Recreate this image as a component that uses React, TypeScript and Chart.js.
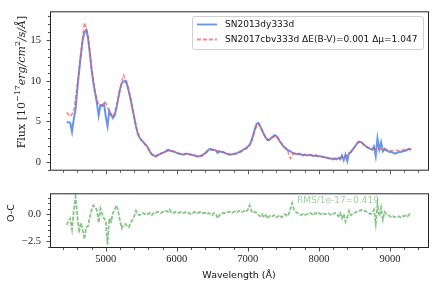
import React, { useEffect, useRef } from 'react';
import { Chart, registerables } from 'chart.js';
Chart.register(...registerables);

// ---------- DATA ----------
const wlModel = [4450,4500,4550,4600,4650,4700,4750,4800,4850,4900,4950,5000,5050,5100,5150,5200,5250,5300,5350,5400,5450,5500,5550,5600,5650,5700,5750,5800,5850,5900,5950,6000,6050,6100,6150,6200,6250,6300,6350,6400,6450,6500,6550,6600,6650,6700,6750,6800,6850,6900,6950,7000,7050,7100,7150,7200,7250,7300,7350,7400,7450,7500,7550,7600,7650,7700,7750,7800,7850,7900,7950,8000,8050,8100,8150,8200,8250,8300,8350,8400,8450,8500,8550,8600,8650,8700,8750,8800,8850,8900,8950,9000,9050,9100,9150,9200,9250,9300];
const fluxModel = [6.1,5.6,6.2,9.5,13.5,17.2,15.8,11.6,8.6,7.0,7.0,7.3,6.2,5.5,6.8,9.0,10.7,9.8,7.8,5.5,3.5,2.7,2.2,1.6,0.9,0.6,0.9,1.1,1.3,1.4,1.3,1.1,1.0,0.9,1.0,0.9,0.8,0.6,0.7,1.0,1.4,1.5,1.4,1.3,1.2,1.0,0.9,0.9,1.0,1.2,1.5,1.7,2.4,4.0,4.7,3.9,3.0,2.7,3.0,3.2,2.6,2.0,1.6,0.4,1.1,1.0,0.9,0.9,0.8,0.8,0.8,0.7,0.6,0.5,0.4,0.4,0.4,0.5,0.6,0.8,1.2,1.8,2.4,2.4,2.0,1.7,1.6,1.6,1.6,1.5,1.5,1.4,1.4,1.4,1.4,1.5,1.6,1.5];

const wlObs = [4450,4475,4500,4525,4550,4575,4600,4625,4650,4675,4700,4725,4750,4775,4800,4825,4850,4875,4900,4925,4950,4975,5000,5025,5050,5075,5100,5125,5150,5175,5200,5225,5250,5275,5300,5325,5350,5375,5400,5425,5450,5475,5500,5525,5550,5575,5600,5625,5650,5675,5700,5725,5750,5775,5800,5825,5850,5875,5900,5925,5950,5975,6000,6025,6050,6075,6100,6125,6150,6175,6200,6225,6250,6275,6300,6325,6350,6375,6400,6425,6450,6475,6500,6525,6550,6575,6600,6625,6650,6675,6700,6725,6750,6775,6800,6825,6850,6875,6900,6925,6950,6975,7000,7025,7050,7075,7100,7125,7150,7175,7200,7225,7250,7275,7300,7325,7350,7375,7400,7425,7450,7475,7500,7525,7550,7575,7600,7625,7650,7675,7700,7725,7750,7775,7800,7825,7850,7875,7900,7925,7950,7975,8000,8025,8050,8075,8100,8125,8150,8175,8200,8225,8250,8275,8300,8325,8350,8375,8400,8425,8450,8475,8500,8525,8550,8575,8600,8625,8650,8675,8700,8725,8750,8775,8800,8825,8850,8875,8900,8925,8950,8975,9000,9025,9050,9075,9100,9125,9150,9175,9200,9225,9250,9275,9300];
const fluxObs = [4.9,4.9,4.8,3.7,5.3,6.5,9.0,11.2,13.2,15.0,16.0,16.3,15.3,13.5,11.4,9.8,8.5,7.3,5.7,7.0,6.9,7.2,5.6,4.4,6.3,5.8,5.4,5.7,6.6,7.8,8.9,9.7,9.9,10.0,9.5,8.7,7.7,6.6,5.5,4.4,3.5,3.0,2.7,2.5,2.2,2.0,1.6,1.2,0.9,0.8,0.7,0.8,0.9,1.0,1.1,1.2,1.3,1.5,1.4,1.3,1.3,1.2,1.1,1.0,1.0,0.9,0.9,1.0,1.0,0.9,0.9,0.8,0.8,0.7,0.7,0.7,0.8,0.9,1.1,1.3,1.5,1.6,1.5,1.5,1.4,1.1,1.3,1.2,1.2,1.1,1.0,0.9,0.9,0.9,1.0,1.0,1.1,1.2,1.3,1.4,1.6,1.7,1.9,2.1,2.6,3.3,4.1,4.7,4.8,4.4,3.9,3.4,3.0,2.7,2.7,2.9,3.1,3.3,3.2,2.9,2.5,2.2,1.9,1.7,1.5,1.4,1.3,1.1,1.0,1.0,0.9,1.0,0.9,0.8,0.9,0.8,0.8,0.9,0.8,0.7,0.8,0.7,0.7,0.7,0.6,0.6,0.5,0.5,0.4,0.4,0.3,0.4,0.3,0.5,0.3,0.8,0.2,0.9,0.1,1.1,1.2,1.5,1.8,2.1,2.4,2.5,2.4,2.2,2.0,1.8,1.7,1.6,1.5,1.9,0.7,2.9,1.5,2.4,1.3,1.6,1.4,1.3,1.2,1.2,1.1,1.0,1.1,1.2,1.2,1.3,1.3,1.4,1.5,1.6,1.5];
const residual = [-1.0,-0.6,-0.4,-1.4,0.3,1.6,-0.2,-1.7,-0.8,-1.4,-2.3,-1.2,-1.1,-0.3,0.4,0.8,0.6,0.4,-0.8,0.5,0.0,-0.4,-0.6,-2.8,-0.4,-0.7,0.1,0.4,0.8,0.3,-0.6,-1.3,-1.0,-0.9,-1.1,-1.2,-0.8,-0.5,-0.2,0.3,0.0,-0.1,0.0,0.1,0.0,0.1,0.0,0.1,-0.1,0.1,0.1,0.2,0.2,0.1,0.2,0.2,0.3,0.2,0.4,0.1,0.1,0.2,0.1,0.1,0.2,0.1,0.1,0.2,0.1,0.1,0.0,0.1,0.2,0.1,0.1,0.2,0.1,0.1,0.1,0.0,0.1,0.0,-0.1,0.1,0.0,-0.4,-0.1,0.0,0.1,0.1,0.1,0.2,0.2,0.1,0.2,0.3,0.2,0.3,0.2,0.2,0.3,0.2,0.4,0.8,0.3,0.1,0.2,0.1,-0.1,-0.2,0.0,-0.3,-0.1,-0.4,-0.2,-0.1,-0.2,-0.1,-0.3,-0.2,-0.1,-0.3,-0.1,0.0,-0.2,0.0,0.5,1.0,0.4,0.2,0.1,0.0,-0.1,0.0,-0.1,0.0,0.0,0.1,0.0,-0.1,0.1,0.0,0.1,0.0,0.1,0.0,0.0,0.1,0.0,-0.1,0.0,0.1,0.0,-0.2,0.1,-0.4,0.0,-0.7,-0.3,0.3,-0.1,0.0,0.1,0.2,0.3,0.3,0.4,0.3,0.3,0.2,0.1,0.0,0.1,0.4,-0.9,0.9,-0.2,0.6,-0.5,0.2,0.0,-0.1,-0.2,-0.3,-0.2,-0.3,-0.3,-0.2,-0.3,-0.2,-0.2,-0.1,-0.2,0.0,0.1];

const xTickValues = [5000, 6000, 7000, 8000, 9000];
const topYTickValues = [0, 5, 10, 15];
const botYTickValues = [-2.5, 0.0];
const legendLabels = ['SN2013dy333d', 'SN2017cbv333d ΔE(B-V)=0.001 Δμ=1.047'];
const rmsLabel = 'RMS/1e-17=0.419';
const xTitle = 'Wavelength (Å)';
const botYTitle = 'O-C';

// ---------- STYLE ----------
const BLUE = 'rgba(75,130,232,0.85)';
const RED = 'rgba(255,70,70,0.65)';
const GREEN = 'rgba(90,175,90,0.72)';
const AXIS = '#262626';
const X_MIN = 4215, X_MAX = 9550;
const SERIF_TICK = { family: 'Liberation Serif', size: 10.5 };

function drawFrameAndTicks(chart: any, yMinorStep: number, yMajorStep: number) {
  const { ctx, chartArea: a, scales } = chart;
  const xs = scales.x, ys = scales.y;
  ctx.save();
  ctx.strokeStyle = AXIS;
  ctx.lineWidth = 0.8;
  ctx.beginPath();
  for (let v = 4400; v <= 9400; v += 200) {
    const px = Math.round(xs.getPixelForValue(v)) + 0.5;
    if (px < a.left || px > a.right) continue;
    const len = v % 1000 === 0 ? 3.5 : 2;
    ctx.moveTo(px, a.bottom);
    ctx.lineTo(px, a.bottom + len);
  }
  const yStart = Math.ceil(ys.min / yMinorStep) * yMinorStep;
  for (let v = yStart; v <= ys.max + 1e-9; v += yMinorStep) {
    const py = Math.round(ys.getPixelForValue(v)) + 0.5;
    const r = v / yMajorStep;
    const major = Math.abs(r - Math.round(r)) < 1e-6;
    const len = major ? 3.5 : 2;
    ctx.moveTo(a.left, py);
    ctx.lineTo(a.left - len, py);
  }
  ctx.stroke();
  ctx.lineWidth = 1;
  ctx.strokeRect(a.left + 0.5, a.top + 0.5, a.right - a.left - 1, a.bottom - a.top - 1);
  ctx.restore();
}

const topPlugin = {
  id: 'topDeco',
  afterDraw(chart: any) {
    drawFrameAndTicks(chart, 1, 5);
    const { ctx } = chart;
    ctx.save();
    ctx.translate(22, 82);
    ctx.rotate(-Math.PI / 2);
    ctx.fillStyle = '#222';
    ctx.textBaseline = 'middle';
    const segs = [
      { t: 'Flux [10', f: '11px "DejaVu Serif"', dy: 0 },
      { t: '−17', f: '8px "DejaVu Serif"', dy: -4 },
      { t: 'erg/cm', f: 'italic 11px "DejaVu Serif"', dy: 0 },
      { t: '2', f: '8px "DejaVu Serif"', dy: -4 },
      { t: '/s/Å', f: 'italic 11px "DejaVu Serif"', dy: 0 },
      { t: ']', f: '11px "DejaVu Serif"', dy: 0 },
    ];
    let total = 0;
    for (const s of segs) { ctx.font = s.f; total += ctx.measureText(s.t).width; }
    let x = -total / 2;
    for (const s of segs) {
      ctx.font = s.f;
      ctx.fillText(s.t, x, s.dy);
      x += ctx.measureText(s.t).width;
    }
    ctx.restore();
    // legend
    ctx.save();
    const lx = 192, ly = 16, lw = 231, lh = 33;
    ctx.fillStyle = 'rgba(255,255,255,0.85)';
    ctx.strokeStyle = '#d0d0d0';
    ctx.lineWidth = 1;
    ctx.beginPath();
    ctx.roundRect(lx + 0.5, ly + 0.5, lw, lh, 2);
    ctx.fill();
    ctx.stroke();
    const rows = [24.5, 39.5];
    ctx.lineWidth = 1.8;
    ctx.strokeStyle = BLUE;
    ctx.beginPath(); ctx.moveTo(197, rows[0]); ctx.lineTo(217, rows[0]); ctx.stroke();
    ctx.strokeStyle = RED;
    ctx.setLineDash([4, 2]);
    ctx.beginPath(); ctx.moveTo(197, rows[1]); ctx.lineTo(217, rows[1]); ctx.stroke();
    ctx.setLineDash([]);
    ctx.fillStyle = '#111';
    ctx.font = '9px "DejaVu Sans"';
    ctx.textBaseline = 'middle';
    ctx.fillText(legendLabels[0], 225, rows[0]);
    ctx.fillText(legendLabels[1], 225, rows[1]);
    ctx.restore();
  },
};

const botPlugin = {
  id: 'botDeco',
  afterDraw(chart: any) {
    drawFrameAndTicks(chart, 0.5, 2.5);
    const { ctx } = chart;
    ctx.save();
    ctx.fillStyle = '#111';
    ctx.font = '9.5px "DejaVu Sans"';
    ctx.textAlign = 'center';
    ctx.textBaseline = 'alphabetic';
    ctx.fillText(xTitle, 239, 96);
    ctx.translate(12, 31);
    ctx.rotate(-Math.PI / 2);
    ctx.textBaseline = 'middle';
    ctx.fillText(botYTitle, 0, 0);
    ctx.restore();
    ctx.save();
    ctx.fillStyle = 'rgba(90,175,90,0.6)';
    ctx.font = '9px "DejaVu Sans"';
    ctx.textBaseline = 'middle';
    ctx.fillText(rmsLabel, 297, 19);
    ctx.restore();
  },
};

function pts(xs: number[], ys: number[]) {
  return xs.map((x, i) => ({ x, y: ys[i] }));
}

export default function App() {
  const topRef = useRef<HTMLCanvasElement>(null);
  const botRef = useRef<HTMLCanvasElement>(null);

  useEffect(() => {
    const top = new Chart(topRef.current!, {
      type: 'line',
      data: {
        datasets: [
          { data: pts(wlObs, fluxObs), borderColor: BLUE, borderWidth: 2, pointRadius: 0, order: 2, tension: 0 },
          { data: pts(wlModel, fluxModel), borderColor: RED, borderWidth: 1.6, borderDash: [4, 2], pointRadius: 0, order: 1, tension: 0 },
        ],
      },
      options: {
        animation: false,
        responsive: false,
        devicePixelRatio: 1,
        events: [],
        layout: { padding: { left: 0, top: 10, right: 11, bottom: 0 } },
        plugins: { legend: { display: false }, tooltip: { enabled: false } },
        scales: {
          x: {
            type: 'linear', min: X_MIN, max: X_MAX,
            ticks: { display: false },
            grid: { display: false }, border: { display: false },
            afterFit: (s: any) => { s.height = 8; },
          },
          y: {
            min: -1.1, max: 18.6,
            afterBuildTicks: (s: any) => { s.ticks = topYTickValues.map((v) => ({ value: v })); },
            ticks: { font: SERIF_TICK, color: '#222', padding: 5, callback: (v: any) => String(v) },
            grid: { display: false, drawTicks: true, tickLength: 4 }, border: { display: false },
            afterFit: (s: any) => { s.width = 50; },
          },
        },
      },
      plugins: [topPlugin],
    } as any);

    const bot = new Chart(botRef.current!, {
      type: 'line',
      data: {
        datasets: [
          { data: pts(wlObs, residual), borderColor: GREEN, borderWidth: 1.8, borderDash: [4, 1.5], pointRadius: 0, tension: 0 },
        ],
      },
      options: {
        animation: false,
        responsive: false,
        devicePixelRatio: 1,
        events: [],
        layout: { padding: { left: 0, top: 11, right: 11, bottom: 0 } },
        plugins: { legend: { display: false }, tooltip: { enabled: false } },
        scales: {
          x: {
            type: 'linear', min: X_MIN, max: X_MAX,
            afterBuildTicks: (s: any) => { s.ticks = xTickValues.map((v) => ({ value: v })); },
            ticks: { font: SERIF_TICK, color: '#222', padding: 1, maxRotation: 0, autoSkip: false, callback: (v: any) => String(v) },
            grid: { display: false, drawTicks: true, tickLength: 4 }, border: { display: false },
            afterFit: (s: any) => { s.height = 43; },
          },
          y: {
            min: -3.1, max: 1.9,
            afterBuildTicks: (s: any) => { s.ticks = botYTickValues.map((v) => ({ value: v })); },
            ticks: { font: SERIF_TICK, color: '#222', padding: 5, callback: (v: any) => (v < 0 ? '−' + Math.abs(v).toFixed(1) : v.toFixed(1)) },
            grid: { display: false, drawTicks: true, tickLength: 4 }, border: { display: false },
            afterFit: (s: any) => { s.width = 50; },
          },
        },
      },
      plugins: [botPlugin],
    } as any);

    return () => { top.destroy(); bot.destroy(); };
  }, []);

  return (
    <div style={{ position: 'fixed', left: 0, top: 0, width: 440, height: 291, background: '#fff' }}>
      <canvas ref={topRef} width={440} height={182} style={{ position: 'absolute', left: 0, top: 0, width: 440, height: 182 }} />
      <canvas ref={botRef} width={440} height={109} style={{ position: 'absolute', left: 0, top: 182, width: 440, height: 109 }} />
    </div>
  );
}
